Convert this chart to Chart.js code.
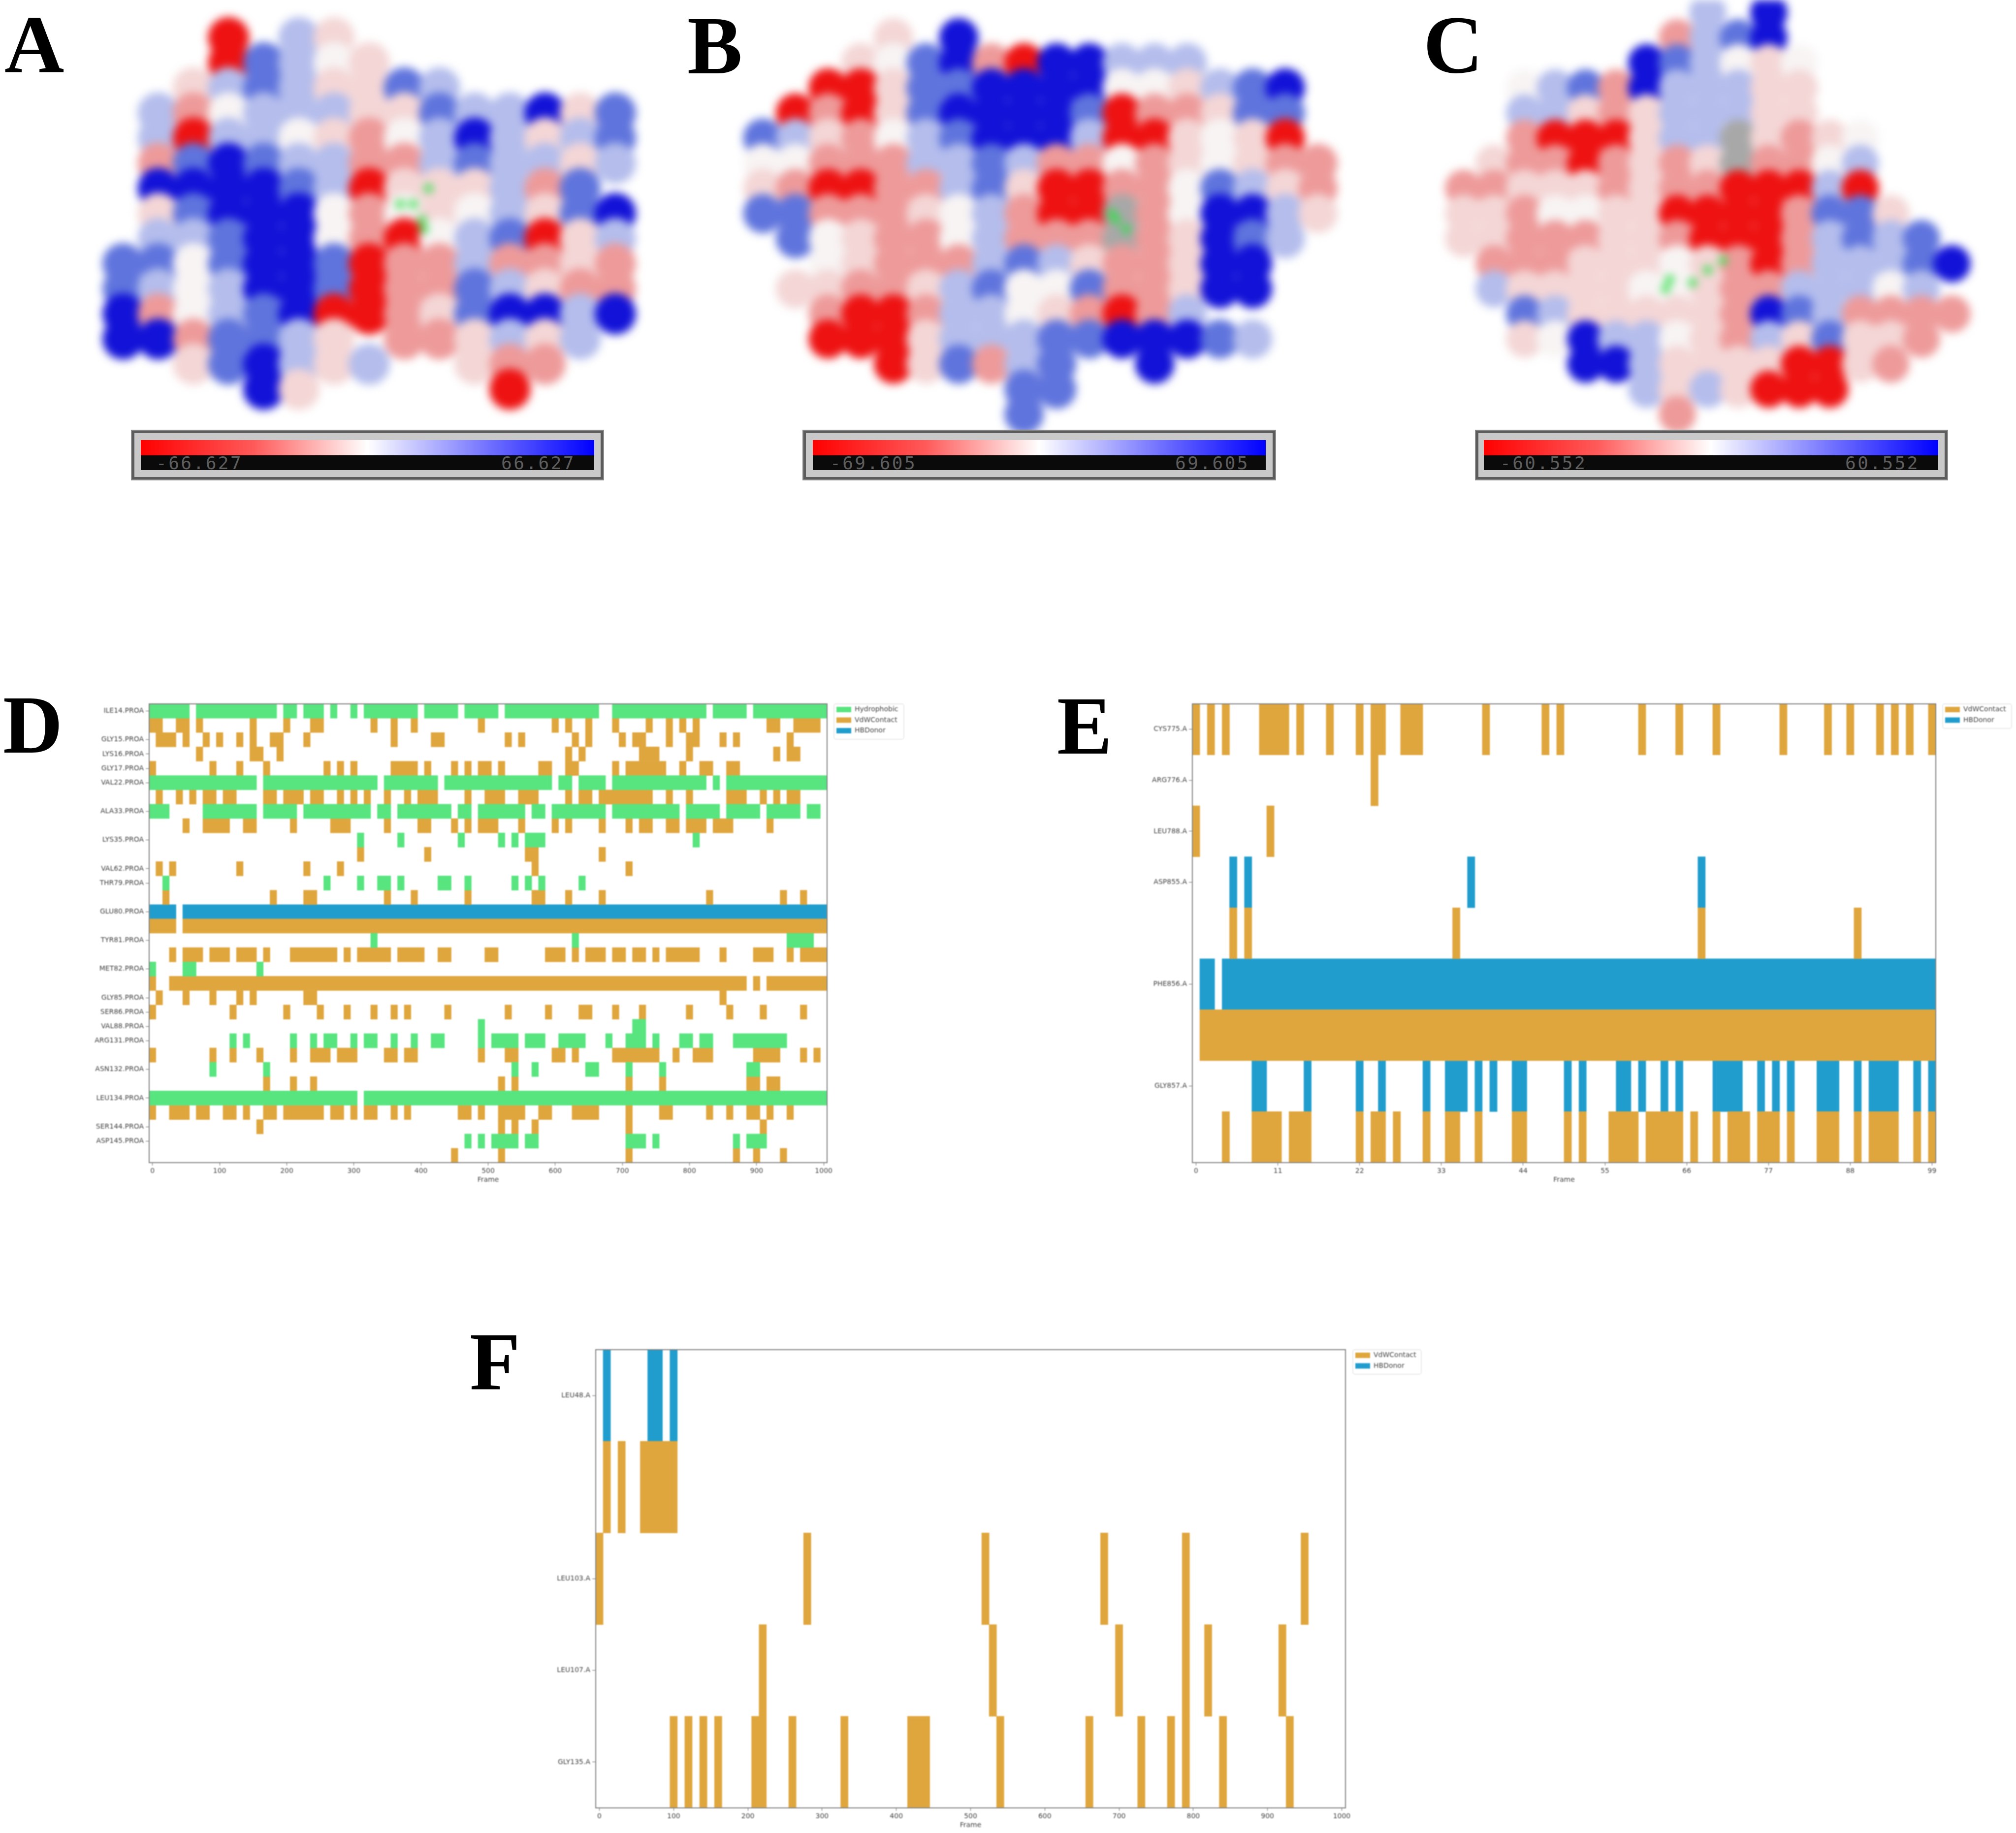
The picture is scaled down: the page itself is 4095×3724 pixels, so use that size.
<!DOCTYPE html>
<html><head><meta charset="utf-8">
<script src="https://cdn.jsdelivr.net/npm/chart.js@4"></script>
<style>
html,body{margin:0;padding:0;background:#fff}
#page{position:relative;width:4095px;height:3724px;overflow:hidden;background:#fff}
canvas{position:absolute}
.letter{position:absolute;font:bold 168px/1 "Liberation Serif",serif;color:#000}
.bar{position:absolute;box-sizing:border-box;border:5px solid #5c5c5c;background:#c9c9c9;outline:2px solid #8a8a8a}
.grad{position:absolute;background:linear-gradient(90deg,#f00 0%,#ff5a5a 25%,#ffd8d8 44%,#fff 50%,#d8d8ff 57%,#6a6aff 78%,#00f 100%)}
.blk{position:absolute;background:#0a0a0a}
.val{position:absolute;font:36px/1 "DejaVu Sans Mono",monospace;letter-spacing:3.5px;color:#5e5e5e;white-space:pre}
</style></head><body><div id="page"></div>
<script>
// ---------- Panel D: residues / interaction type / frame spans ----------
const dRows = [
['ILE14.PROA','H',[[-5,55],[65,185],[195,215],[225,255],[265,275],[295,305],[315,395],[405,455],[465,515],[525,665],[685,825],[835,885],[895,1005]]],
['','V',[[-5,15],[35,55],[65,75],[145,155],[195,205],[235,255],[325,335],[355,365],[385,395],[485,495],[595,605],[615,625],[645,655],[685,695],[735,745],[765,775],[785,795],[805,815],[915,935],[955,995]]],
['GLY15.PROA','V',[[5,35],[45,55],[75,85],[95,105],[125,135],[145,155],[175,195],[225,235],[355,365],[415,435],[525,535],[545,555],[625,635],[645,655],[695,705],[715,735],[765,775],[795,815],[845,855],[865,875],[945,955]]],
['LYS16.PROA','V',[[65,75],[145,165],[185,195],[615,625],[635,645],[725,755],[795,805],[925,935],[945,965]]],
['GLY17.PROA','V',[[-5,5],[85,95],[125,135],[165,175],[255,265],[275,285],[295,305],[355,395],[405,415],[445,455],[465,475],[485,505],[515,525],[575,595],[615,635],[685,695],[705,765],[785,795],[815,835],[855,875]]],
['VAL22.PROA','H',[[-5,155],[165,335],[345,425],[435,595],[605,625],[635,675],[685,825],[835,845],[855,1005]]],
['','V',[[5,15],[35,45],[55,65],[75,95],[105,125],[165,185],[195,225],[235,255],[275,285],[295,305],[315,325],[345,355],[375,385],[395,425],[465,475],[495,525],[545,575],[615,625],[635,655],[665,745],[765,775],[795,805],[855,885],[905,915],[925,935],[945,965]]],
['ALA33.PROA','H',[[-5,25],[75,155],[165,215],[225,325],[335,355],[365,445],[455,475],[485,555],[565,585],[595,675],[685,785],[795,845],[855,905],[915,965],[975,995]]],
['','V',[[45,55],[75,115],[135,155],[205,215],[265,295],[345,355],[395,415],[445,455],[465,475],[485,515],[545,555],[595,605],[615,625],[665,675],[705,715],[725,745],[765,785],[795,825],[835,865],[915,925]]],
['LYS35.PROA','H',[[305,315],[365,375],[455,465],[515,525],[535,545],[555,585],[805,815]]],
['','V',[[305,315],[405,415],[555,575],[665,675]]],
['VAL62.PROA','V',[[5,15],[25,35],[125,135],[225,235],[275,285],[565,575],[705,715]]],
['THR79.PROA','H',[[15,25],[255,265],[305,315],[335,355],[365,375],[425,445],[465,475],[535,545],[555,565],[575,585],[635,645]]],
['','V',[[15,25],[175,185],[225,245],[345,355],[385,395],[465,475],[565,585],[615,625],[665,675],[825,835],[935,945],[965,975]]],
['GLU80.PROA','B',[[-5,35],[45,1005]]],
['','V',[[-5,35],[45,1005]]],
['TYR81.PROA','H',[[325,335],[625,635],[945,985]]],
['','V',[[25,35],[45,75],[85,115],[125,155],[165,175],[205,275],[285,295],[305,355],[365,405],[425,445],[495,515],[585,615],[625,635],[645,675],[685,705],[715,735],[745,755],[765,815],[845,855],[895,925],[945,955],[965,1005]]],
['MET82.PROA','H',[[-5,5],[45,65],[155,165]]],
['','V',[[-5,5],[25,885],[895,905],[915,1005]]],
['GLY85.PROA','V',[[5,15],[45,55],[85,95],[125,135],[145,155],[225,245],[845,855]]],
['SER86.PROA','V',[[-5,5],[115,125],[195,205],[245,255],[285,295],[325,335],[355,365],[375,385],[435,445],[525,535],[585,595],[635,655],[685,695],[725,735],[795,805],[855,865],[905,915],[965,975]]],
['VAL88.PROA','H',[[485,495],[715,735]]],
['ARG131.PROA','H',[[115,125],[135,145],[205,215],[235,245],[255,275],[295,305],[315,335],[355,365],[385,395],[415,435],[485,495],[505,545],[555,585],[605,645],[675,685],[705,735],[745,755],[785,805],[815,835],[865,945]]],
['','V',[[-5,5],[85,95],[115,125],[155,165],[205,215],[235,265],[275,305],[345,365],[375,395],[485,495],[525,545],[595,615],[625,635],[685,755],[775,785],[805,835],[895,935],[965,975],[985,995]]],
['ASN132.PROA','H',[[85,95],[165,175],[535,545],[565,575],[645,665],[705,715],[755,765],[885,905]]],
['','V',[[165,175],[205,215],[235,245],[515,525],[535,545],[705,715],[755,765],[885,905],[915,935]]],
['LEU134.PROA','H',[[-5,305],[315,1005]]],
['','V',[[-5,5],[25,55],[65,85],[105,125],[135,145],[165,185],[195,255],[265,285],[295,305],[315,335],[355,365],[375,385],[455,475],[485,495],[515,555],[575,595],[625,665],[705,715],[755,775],[825,835],[855,865],[885,905],[915,925],[945,955]]],
['SER144.PROA','V',[[155,165],[515,525],[535,545],[565,575],[705,715],[905,915]]],
['ASP145.PROA','H',[[465,475],[485,495],[505,545],[555,575],[705,735],[745,755],[865,875],[885,915]]],
['','V',[[445,455],[515,525],[705,715],[865,875],[895,905],[935,945]]]
];
const dTicks = [0,100,200,300,400,500,600,700,800,900,1000];

// ---------- Panel E ----------
const eRows = [
['CYS775.A','V',[[-0.5,0.5],[1.5,2.5],[3.5,4.5],[8.5,12.5],[13.5,14.5],[17.5,18.5],[21.5,22.5],[23.5,25.5],[27.5,30.5],[38.5,39.5],[46.5,47.5],[48.5,49.5],[59.5,60.5],[64.5,65.5],[69.5,70.5],[78.5,79.5],[84.5,85.5],[87.5,88.5],[91.5,92.5],[93.5,94.5],[95.5,96.5],[98.5,99.5]]],
['ARG776.A','V',[[23.5,24.5]]],
['LEU788.A','V',[[-0.5,0.5],[9.5,10.5]]],
['ASP855.A','B',[[4.5,5.5],[6.5,7.5],[36.5,37.5],[67.5,68.5]]],
['','V',[[4.5,5.5],[6.5,7.5],[34.5,35.5],[67.5,68.5],[88.5,89.5]]],
['PHE856.A','B',[[0.5,2.5],[3.5,99.5]]],
['','V',[[0.5,99.5]]],
['GLY857.A','B',[[7.5,9.5],[14.5,15.5],[21.5,22.5],[24.5,25.5],[30.5,31.5],[33.5,36.5],[37.5,38.5],[39.5,40.5],[42.5,44.5],[49.5,50.5],[51.5,52.5],[56.5,58.5],[59.5,60.5],[62.5,63.5],[64.5,65.5],[69.5,73.5],[75.5,76.5],[77.5,78.5],[79.5,80.5],[83.5,86.5],[88.5,89.5],[90.5,94.5],[96.5,97.5],[98.5,99.5]]],
['','V',[[3.5,4.5],[7.5,11.5],[12.5,15.5],[21.5,22.5],[23.5,25.5],[26.5,27.5],[30.5,31.5],[33.5,35.5],[37.5,38.5],[42.5,44.5],[49.5,50.5],[51.5,52.5],[55.5,59.5],[60.5,65.5],[66.5,67.5],[69.5,70.5],[71.5,74.5],[75.5,78.5],[79.5,80.5],[83.5,86.5],[88.5,89.5],[90.5,94.5],[96.5,97.5],[98.5,99.5]]]
];
const eTicks = [0,11,22,33,44,55,66,77,88,99];

// ---------- Panel F ----------
const fRows = [
['LEU48.A','B',[[5,15],[65,85],[95,105]]],
['','V',[[5,15],[25,35],[55,105]]],
['LEU103.A','V',[[-5,5],[275,285],[515,525],[675,685],[785,795],[945,955]]],
['LEU107.A','V',[[215,225],[525,535],[695,705],[785,795],[815,825],[915,925]]],
['GLY135.A','V',[[95,105],[115,125],[135,145],[155,165],[205,225],[255,265],[325,335],[415,445],[535,545],[655,665],[725,735],[765,775],[785,795],[835,845],[925,935]]]
];
const fTicks = [0,100,200,300,400,500,600,700,800,900,1000];

// ---------- Surface panels A, B, C: coarse colour maps ----------
// r red, p pink, e pale pink, w white, l light blue, m mid blue, b blue, g grey
const surfaceColours = {r:'#ee1212',p:'#ee9a9a',e:'#f4d6d6',w:'#f8f4f4',l:'#b4bdec',m:'#5f74dd',b:'#1212d8',g:'#a8a8a8'};
const surfaceA = [
"....................",
"......r.le..........",
"......rmlwe.........",
".....elmleeml.......",
"....lpwllleemllbem..",
"....lrllwepwlblelm..",
"....pmbmllpplmllel..",
"....bbbbmlreeelpm...",
"....embbbwpwewlemb..",
"....llmbbwprwlmrel..",
"...mmwmbbmrpplppep..",
"...mlwlbbmrppmlepp..",
"...bpwlmbrrpembblb..",
"...bbpmmle.ppelel...",
".....emblel..epp....",
".......be.....r....."
];
const surfaceB = [
"....................",
".....e.b............",
"....ewmbprbblll.....",
"...rremmbbbbwwelmb..",
"..rprembbbbmrppemm..",
".mlepwlmbbblrrewer..",
".wwpppllmlppwpewepp.",
".eprrpplmerrppwmlep.",
".mmpppewlprrgpwbble.",
"..mweppwlpppgpebml..",
"...wepppl" + "mleppebb" + "...",
"..eeppelmwwmppebb...",
"...prrpllweprpl.....",
"...rrrelllmmbbbml...",
".....remplm..b......",
".........mm.........",
".........m.........."
];
const surfaceC = [
".........l.b........",
"........plmb........",
".......bmlwew.......",
"...wlmpblllee.......",
"...llepelllee.......",
"...prrrellgepew.....",
"..epprpepegppwl.....",
".ppeeepepprrrlr.....",
".eepwweerrrrpmme....",
".eepppeeprrrplmlm...",
"..pppeeewepr" + "plllmb" + "..",
"..leeeewwepplllwl...",
"...mleeeeepbmlpppp..",
"...ewbllweplemeep...",
".....bbleeeerrep....",
".......lelerrr......",
"........p..........."
];
const ligandA = [[910,650],[940,650],[960,700],[975,600],[965,730]];
const ligandB = [[985,700],[1010,730],[975,680]];
const ligandC = [[650,920],[660,890],[720,900],[760,860],[800,830]];

const colourBars = [
 {low:'-66.627',high:'66.627'},
 {low:'-69.605',high:'69.605'},
 {low:'-60.552',high:'60.552'}
];
const typeNames = {H:'Hydrophobic',V:'VdWContact',B:'HBDonor'};
const typeColours = {H:'#58e47f',V:'#dfa63e',B:'#219dcd'};

const page = document.getElementById('page');
function addCanvas(l,t,w,h,css){
  const c=document.createElement('canvas');c.width=w;c.height=h;
  c.style.cssText=`left:${l}px;top:${t}px;width:${w}px;height:${h}px;${css||''}`;
  page.appendChild(c);return c;
}
function addEl(cls,l,t,w,h,txt){
  const d=document.createElement('div');d.className=cls;
  d.style.left=l+'px';d.style.top=t+'px';
  if(w!=null){d.style.width=w+'px';d.style.height=h+'px';}
  if(txt!=null)d.textContent=txt;
  page.appendChild(d);return d;
}
Chart.defaults.font.family='"DejaVu Sans"';
Chart.defaults.animation=false;

function surface(region,grid,ligand,radius){
  const c=addCanvas(region.l,0,region.w,1000,'filter:blur(9px)');
  const pts=[];
  grid.forEach((row,j)=>{[...row].forEach((ch,i)=>{
    if(surfaceColours[ch])pts.push({x:40+80*i,y:40+80*j,r:radius,c:surfaceColours[ch]});
  });});
  new Chart(c,{type:'bubble',
    data:{datasets:[
      {data:ligand.map(p=>({x:p[0],y:p[1],r:9,c:'#2fe04a'})),backgroundColor:ctx=>ctx.raw.c,borderWidth:0,clip:false},
      {data:pts,backgroundColor:ctx=>ctx.raw.c,borderWidth:0,clip:false}
    ]},
    options:{responsive:false,devicePixelRatio:1,layout:{padding:0,autoPadding:false},
      plugins:{legend:{display:false},tooltip:{enabled:false}},
      scales:{x:{display:false,min:0,max:1568},y:{display:false,min:0,max:1568,reverse:true}}}});
}
surface({l:0,w:1400},surfaceA,ligandA,42);
surface({l:1450,w:1300},surfaceB,ligandB,40);
surface({l:2880,w:1215},surfaceC,ligandC,38);

[[268,957,286,921,317,1018],[1632,958,1651,920,1686,2387],[2998,957,3014,923,3047,3748]].forEach((g,i)=>{
  addEl('bar',g[0],875,g[1],99);
  addEl('grad',g[2],894,g[3],31);
  addEl('blk',g[2],925,g[3],30);
  addEl('val',g[4],923,null,null,colourBars[i].low);
  addEl('val',g[5],923,null,null,colourBars[i].high);
});
[['A',9,6],['B',1396,8],['C',2891,6],['D',6,1388],['E',2147,1390],['F',954,2682]].forEach(a=>addEl('letter',a[1],a[2],null,null,a[0]));

function interaction(o){
  const yW=140, pT=20, xH=44;
  const c=addCanvas(o.L-yW,o.T-pT,yW+(o.R-o.L)+o.legW,pT+(o.B-o.T)+xH,'filter:blur(0.8px)');
  const keys=o.rows.map((r,i)=>r[0]+'#'+i);
  const datasets=o.order.map(t=>({
    label:typeNames[t],backgroundColor:typeColours[t],borderWidth:0,borderSkipped:false,
    grouped:false,barPercentage:1,categoryPercentage:1,
    data:o.rows.flatMap((r,i)=>r[1]===t?r[2].map(s=>({x:s,y:keys[i]})):[])
  }));
  const cfg=o.legend;
  new Chart(c,{type:'bar',data:{labels:keys,datasets},
    options:{indexAxis:'y',responsive:false,devicePixelRatio:1,
      layout:{padding:{top:pT},autoPadding:false},
      plugins:{tooltip:{enabled:false},
        legend:{position:'right',align:'start',
          labels:{boxWidth:30,boxHeight:11,padding:7.5,color:'#444',font:{size:14}}}},
      scales:{
        x:{type:'linear',min:o.min,max:o.max,
          grid:{drawOnChartArea:false,tickLength:6,color:'#666'},border:{display:false},
          afterBuildTicks:s=>{s.ticks=o.ticks.map(v=>({value:v}));},
          afterFit:s=>{s.height=xH;},
          ticks:{autoSkip:false,maxRotation:0,padding:3,color:'#444',font:{size:14},callback:v=>String(v)},
          title:{display:true,text:'Frame',color:'#444',font:{size:14},padding:0}},
        y:{grid:{drawOnChartArea:false,tickLength:7,color:'#666',offset:false},border:{display:false},
          afterBuildTicks:s=>{s.ticks=s.ticks.filter(t=>o.rows[t.value][0]);},
          afterFit:s=>{s.width=yW;},
          ticks:{autoSkip:false,padding:4,color:'#444',font:{size:14},
            callback:v=>o.rows[v][0]}}
      }},
    plugins:[{id:'frames',
      beforeLayout(ch){
        const lg=ch.legend,f=lg.fit;
        lg.fit=function(){f.call(this);this.width=o.legW;};
      },
      afterLayout(ch){
        const lg=ch.legend,a=ch.chartArea;
        lg.left=a.right+cfg[0];lg.right=a.right+o.legW;lg.top=a.top-3;lg.bottom=lg.top+cfg[1];
      },
      afterDraw(ch){
        const x=ch.ctx,a=ch.chartArea;
        x.save();
        x.strokeStyle='#808080';x.lineWidth=2;
        x.strokeRect(a.left,a.top,a.width,a.height);
        x.strokeStyle='#e4e4e4';x.lineWidth=1.5;
        x.beginPath();x.roundRect(a.right+cfg[2],a.top,cfg[3],cfg[1]-6,4);x.stroke();
        x.restore();
      }}]
  });
}
interaction({rows:dRows,order:['H','V','B'],ticks:dTicks,min:-5,max:1005,L:303,R:1680,T:1430,B:2362,legW:170,legend:[11.5,78,14,142]});
interaction({rows:eRows,order:['V','B'],ticks:eTicks,min:-0.5,max:99.5,L:2422,R:3932,T:1430,B:2362,legW:158,legend:[11.5,56,14,140]});
interaction({rows:fRows,order:['V','B'],ticks:fTicks,min:-5,max:1005,L:1210,R:2733,T:2742,B:3673,legW:162,legend:[12.5,56,15,139]});
</script></body></html>
